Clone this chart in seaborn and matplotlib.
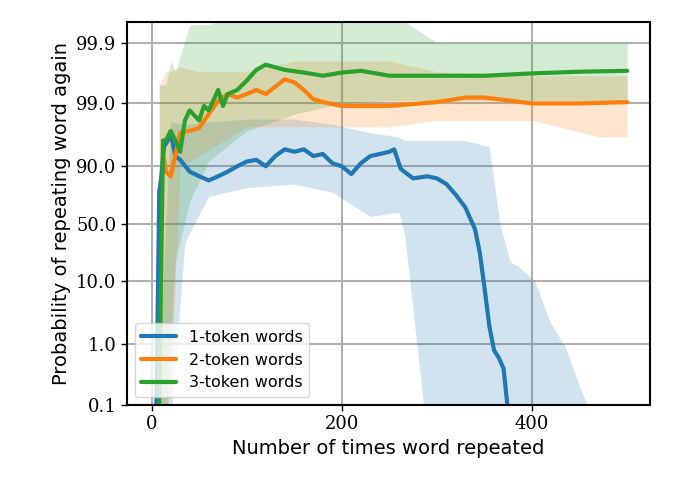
import numpy as np
import pandas as pd
import seaborn as sns
import matplotlib
matplotlib.use("Agg")
from matplotlib import pyplot as plt

# percent values (logit y axis)
x1 = [5, 8, 10, 13, 17, 20, 25, 30, 40, 50, 60, 70, 80, 90, 100, 110, 120, 130, 140, 150, 160, 170, 180, 190,
      200, 210, 220, 230, 240, 250, 255, 262, 275, 290, 300, 310, 320, 330, 335, 340, 345, 350, 355, 360, 365, 370, 374]
y1 = [0.1, 77, 85, 95, 96, 97, 93, 92, 88, 86, 84, 86, 88, 90, 91.5, 92, 90, 93, 94.5, 94, 94.5, 93, 93.5, 91,
      90, 87, 91, 93, 93.5, 94, 94.5, 89, 85, 86, 85, 82, 75, 65, 55, 45, 25, 8, 2, 0.8, 0.6, 0.4, 0.1]
b1_x = [5, 20, 35, 60, 100, 150, 190, 230, 260, 266, 288, 300, 330, 355, 366, 377, 387, 403, 419, 435, 450, 466, 500]
b1_lo = [0.05, 0.05, 33, 74, 80, 82, 77, 57, 61, 40, 0.05, 0.05, 0.05, 0.05, 0.05, 0.05, 0.05, 0.05, 0.05, 0.05, 0.05, 0.05, 0.05]
b1_hi = [0.05, 98, 97.8, 98, 98.2, 98.2, 97.8, 97, 96.5, 96, 96, 96, 96, 95, 50, 19, 16, 10, 2.3, 0.9, 0.2, 0.05, 0.05]

x2 = [12, 15, 20, 30, 40, 50, 60, 70, 80, 90, 100, 110, 120, 140, 150, 160, 170, 180, 200, 250, 300, 330, 350, 400, 450, 500]
y2 = [94, 88, 86, 97, 97.2, 97.5, 98.5, 99.1, 99.3, 99.2, 99.3, 99.4, 99.3, 99.6, 99.55, 99.4, 99.15, 99.05, 98.9, 98.9,
      99.05, 99.2, 99.2, 99.0, 99.0, 99.05]
b2_x = [8, 15, 20, 30, 50, 100, 150, 250, 300, 400, 470, 500]
b2_lo = [0.05, 0.05, 0.2, 90, 93, 97.6, 97.6, 97.6, 98.1, 98.1, 96.5, 96.5]
b2_hi = [99.5, 99.7, 99.7, 99.75, 99.7, 99.7, 99.8, 99.8, 99.7, 99.65, 99.65, 99.65]

x3 = [8, 12, 15, 20, 25, 30, 35, 40, 50, 55, 60, 70, 75, 80, 90, 100, 110, 120, 140, 160, 180, 200, 220, 250, 300, 350, 400, 450, 500]
y3 = [0.1, 96, 96, 97.2, 96, 94, 98.1, 98.7, 98.1, 98.9, 98.7, 99.4, 98.9, 99.3, 99.4, 99.58, 99.72, 99.77, 99.72, 99.69,
      99.65, 99.69, 99.71, 99.65, 99.65, 99.65, 99.68, 99.7, 99.71]
b3_x = [8, 15, 20, 25, 40, 60, 100, 150, 200, 250, 300, 500]
b3_lo = [0.05, 0.05, 1, 20, 70, 91.6, 97.2, 98.5, 99.0, 99.1, 99.1, 99.1]
b3_hi = [99.5, 99.5, 99.8, 99.7, 99.95, 99.95, 99.97, 99.97, 99.97, 99.97, 99.9, 99.9]

labels = ["1-token words", "2-token words", "3-token words"]
colors = ["#1f77b4", "#ff7f0e", "#2ca02c"]
tick_vals = [0.1, 1.0, 10.0, 50.0, 90.0, 99.0, 99.9]

sns.set_style("white")
plt.rcParams["font.family"] = ["DejaVu Sans"]
plt.rcParams["text.color"] = "black"
plt.rcParams["axes.labelcolor"] = "black"

fig = plt.figure(figsize=(6.75, 4.98), dpi=100)
ax = fig.add_axes([0.188, 0.187, 0.775, 0.769])

bands = [(b1_x, b1_lo, b1_hi), (b2_x, b2_lo, b2_hi), (b3_x, b3_lo, b3_hi)]
for (bx, lo, hi), c in zip(bands, colors):
    ax.fill_between(bx, np.array(lo) / 100, np.array(hi) / 100, color=c, alpha=0.2, lw=0)

for xs, ys, lab, c in zip([x1, x2, x3], [y1, y2, y3], labels, colors):
    df = pd.DataFrame({"x": xs, "p": np.array(ys) / 100})
    sns.lineplot(data=df, x="x", y="p", ax=ax, color=c, lw=3, label=lab)

ax.set_yscale("logit")
ax.set_ylim(0.001, 0.99955)
ax.set_xlim(-26, 524)
ax.set_yticks([v / 100 for v in tick_vals])
ax.set_yticklabels([f"{v:.1f}" for v in tick_vals], family="DejaVu Serif", fontsize=13)
ax.yaxis.set_minor_locator(matplotlib.ticker.NullLocator())
ax.set_xticks([0, 200, 400])
ax.set_xticklabels(["0", "200", "400"], family="DejaVu Serif", fontsize=13)
ax.tick_params(length=4, width=1, left=True, bottom=True, colors="black")
ax.grid(True, color="#b0b0b0", lw=1.5)
for s in ax.spines.values():
    s.set_color("black")
    s.set_linewidth(1.5)
ax.set_xlabel("Number of times word repeated", fontsize=14)
ax.set_ylabel("Probability of repeating word again", fontsize=14)
ax.legend(loc="lower left", fontsize=11.5, framealpha=0.8, handlelength=2.2)

fig.savefig("out.png", dpi=100)
